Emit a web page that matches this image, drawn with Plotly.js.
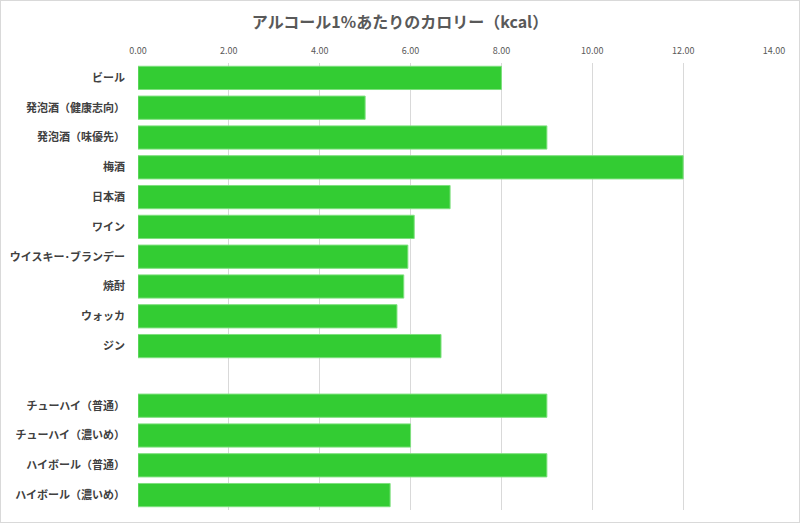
<!DOCTYPE html>
<html>
<head>
<meta charset="utf-8">
<script src="https://cdn.plot.ly/plotly-3.0.1.min.js"></script>
<style>
  body { margin: 0; background: #fff; }
  #chart { width: 798px; height: 521px; border: 1px solid #d9d9d9; }
</style>
</head>
<body>
<div id="chart"></div>
<script>
// drink names, top to bottom (the blank one is the gap row)
const drinks = [
  'ビール', '発泡酒（健康志向）', '発泡酒（味優先）', '梅酒', '日本酒', 'ワイン',
  'ウイスキー･ブランデー', '焼酎', 'ウォッカ', 'ジン', ' ',
  'チューハイ（普通）', 'チューハイ（濃いめ）', 'ハイボール（普通）', 'ハイボール（濃いめ）'
];
// kcal per 1% alcohol
const kcal = [8.0, 5.0, 9.0, 12.0, 6.87, 6.08, 5.94, 5.85, 5.70, 6.67, null, 9.0, 6.0, 9.0, 5.55];
const xTicks = [0, 2, 4, 6, 8, 10, 12, 14];

const font = "'Noto Sans CJK JP', 'Noto Sans', sans-serif";

const trace = {
  type: 'bar',
  orientation: 'h',
  x: kcal,
  y: drinks,
  marker: { color: '#33cc33', line: { color: '#7ee07e', width: 1 } },
  hoverinfo: 'x+y'
};

const layout = {
  width: 798,
  height: 521,
  margin: { l: 137, r: 25, t: 62, b: 12 },
  paper_bgcolor: '#fff',
  plot_bgcolor: '#fff',
  font: { family: font, color: '#595959' },
  title: {
    text: 'アルコール1%あたりのカロリー（kcal）',
    font: { family: font, size: 16, color: '#595959', weight: 'bold' },
    x: 0.5, xanchor: 'center', y: 0.958, yanchor: 'middle'
  },
  bargap: 0.22,
  showlegend: false,
  xaxis: {
    side: 'top',
    range: [0, 14],
    tickvals: xTicks,
    tickformat: '.2f',
    showgrid: true,
    gridcolor: '#d9d9d9',
    zeroline: false,
    showline: false,
    ticks: '',
    ticklabelstandoff: 6,
    tickfont: { size: 9, color: '#595959' },
    fixedrange: true
  },
  yaxis: {
    type: 'category',
    autorange: 'reversed',
    showgrid: false,
    zeroline: false,
    showline: false,
    ticks: '',
    ticklabelstandoff: 12,
    tickfont: { size: 11, color: '#404040', weight: 'bold' },
    fixedrange: true
  }
};

Plotly.newPlot('chart', [trace], layout, { displayModeBar: false, staticPlot: true });
</script>
</body>
</html>
